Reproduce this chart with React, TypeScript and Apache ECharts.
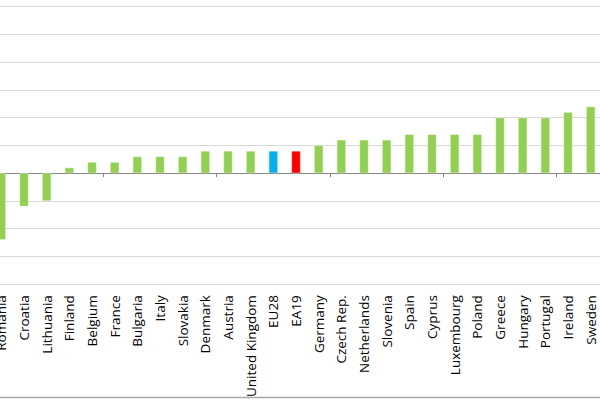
import React, { useEffect, useRef } from 'react';
import * as echarts from 'echarts';

const countries = [
    'Romania', 'Croatia', 'Lithuania', 'Finland', 'Belgium', 'France', 'Bulgaria',
    'Italy', 'Slovakia', 'Denmark', 'Austria', 'United Kingdom', 'EU28', 'EA19',
    'Germany', 'Czech Rep.', 'Netherlands', 'Slovenia', 'Spain', 'Cyprus',
    'Luxembourg', 'Poland', 'Greece', 'Hungary', 'Portugal', 'Ireland', 'Sweden'
];

const values = [
    -2.4, -1.2, -1.0, 0.2, 0.4, 0.4, 0.6,
    0.6, 0.6, 0.8, 0.8, 0.8, 0.8, 0.8,
    1.0, 1.2, 1.2, 1.2, 1.4, 1.4,
    1.4, 1.4, 2.0, 2.0, 2.0, 2.2, 2.4
];

// aggregates get their own colours
const highlight: { [key: string]: string } = {
    EU28: '#00B0F0',
    EA19: '#FF0000'
};

const App: React.FC = () => {
    const chartRef = useRef<HTMLDivElement>(null);

    useEffect(() => {
        if (!chartRef.current) return;
        const chart = echarts.init(chartRef.current, null, { renderer: 'svg' });

        const option = {
            animation: false,
            backgroundColor: '#fff',
            grid: {
                left: 0,
                right: 0,
                top: 6.7,
                bottom: 114
            },
            xAxis: [
                {
                    type: 'category',
                    data: countries,
                    position: 'bottom',
                    axisLine: { onZero: true, lineStyle: { color: '#868686', width: 1 } },
                    axisTick: { show: true, length: 4, lineStyle: { color: '#868686' } },
                    axisLabel: { show: false }
                },
                {
                    type: 'category',
                    data: countries,
                    position: 'bottom',
                    axisLine: { show: false, onZero: false },
                    axisTick: { show: false },
                    axisLabel: {
                        rotate: 90,
                        margin: 11,
                        interval: 0,
                        color: '#000',
                        fontFamily: 'Open Sans',
                        fontSize: 13.5
                    }
                }
            ],
            yAxis: {
                type: 'value',
                min: -4,
                max: 6,
                interval: 1,
                axisLine: { show: false },
                axisTick: { show: false },
                axisLabel: { show: false },
                splitLine: { lineStyle: { color: '#D9D9D9', width: 1.2 } }
            },
            graphic: [
                {
                    type: 'line',
                    shape: { x1: 0, y1: 397.5, x2: 612, y2: 397.5 },
                    style: { stroke: '#A6A6A6', lineWidth: 1.5 }
                }
            ],
            series: [
                {
                    type: 'bar',
                    xAxisIndex: 0,
                    barWidth: 9,
                    data: values.map((v, i) => ({
                        value: v,
                        itemStyle: {
                            color: highlight[countries[i]] || '#92D050',
                            borderColor: 'rgba(255,255,255,0.6)',
                            borderWidth: 0.5
                        }
                    }))
                }
            ]
        };

        chart.setOption(option);
        return () => chart.dispose();
    }, []);

    return (
        <div style={{ position: 'absolute', left: 0, top: 0, width: 600, height: 400, overflow: 'hidden' }}>
            <div
                ref={chartRef}
                style={{ position: 'absolute', left: -10.3, top: 0, width: 612, height: 400 }}
            />
        </div>
    );
};

export default App;
